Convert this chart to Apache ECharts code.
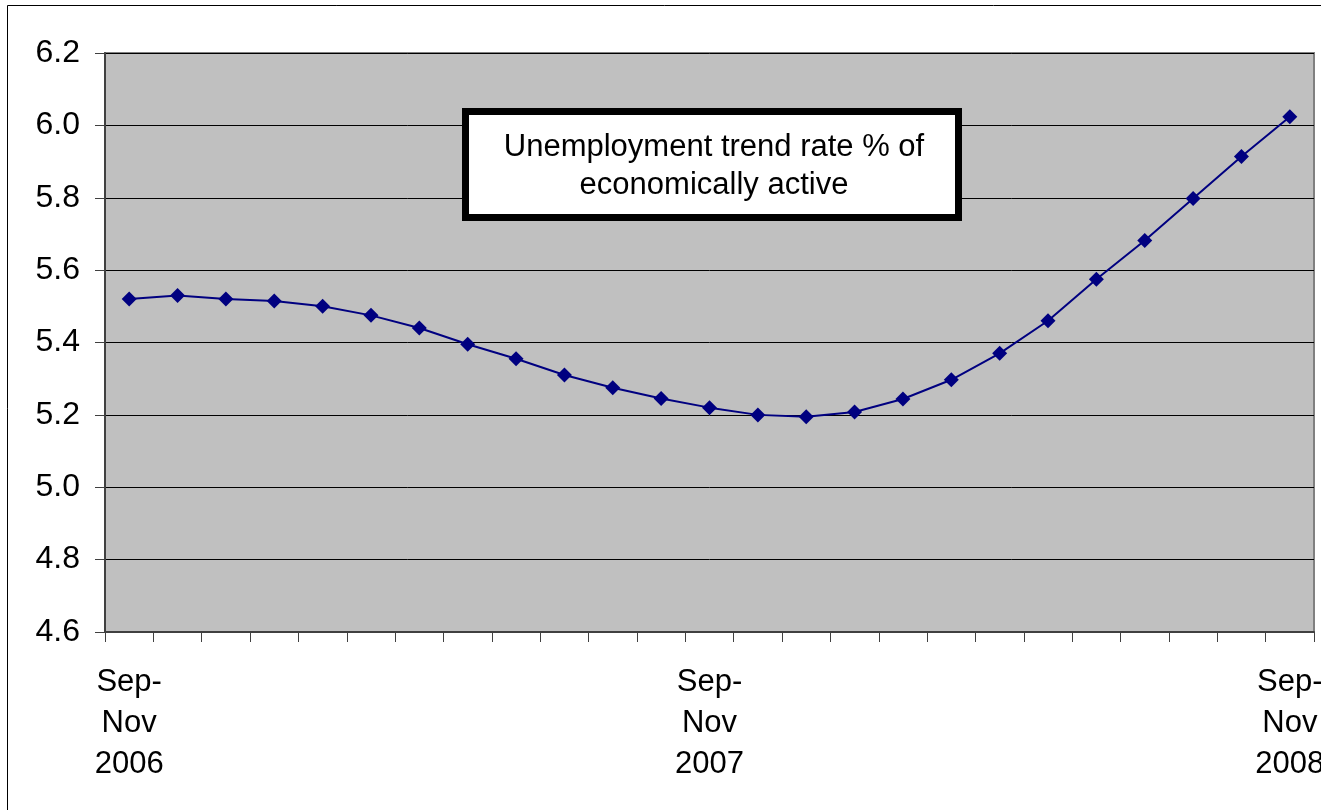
<!DOCTYPE html>
<html>
<head>
<meta charset="utf-8">
<script src="https://cdn.jsdelivr.net/npm/echarts@6/dist/echarts.min.js"></script>
<style>
  html, body { margin: 0; padding: 0; background: #fff; }
  #main { width: 1321px; height: 810px; }
</style>
</head>
<body>
<div id="main"></div>
<script>
// rolling three-month periods
const periods = [
  'Sep-Nov 2006', 'Oct-Dec 2006', 'Nov-Jan 2007', 'Dec-Feb 2007', 'Jan-Mar 2007',
  'Feb-Apr 2007', 'Mar-May 2007', 'Apr-Jun 2007', 'May-Jul 2007', 'Jun-Aug 2007',
  'Jul-Sep 2007', 'Aug-Oct 2007', 'Sep-Nov 2007', 'Oct-Dec 2007', 'Nov-Jan 2008',
  'Dec-Feb 2008', 'Jan-Mar 2008', 'Feb-Apr 2008', 'Mar-May 2008', 'Apr-Jun 2008',
  'May-Jul 2008', 'Jun-Aug 2008', 'Jul-Sep 2008', 'Aug-Oct 2008', 'Sep-Nov 2008'
]
const rates = [
  5.52, 5.53, 5.52, 5.515, 5.50,
  5.475, 5.44, 5.395, 5.355, 5.31,
  5.275, 5.245, 5.22, 5.20, 5.195,
  5.208, 5.244, 5.297, 5.37, 5.46,
  5.575, 5.682, 5.798, 5.914, 6.024
]
const boxTitle = 'Unemployment trend rate % of\neconomically active'

const font = '"Liberation Sans", Arial, sans-serif'
const myChart = echarts.init(document.getElementById('main'))

const option = {
  animation: false,
  backgroundColor: '#fff',
  grid: {
    left: 105, right: 7, top: 53, bottom: 178,
    outerBoundsMode: 'none',
    containLabel: false,
    show: true,
    backgroundColor: '#c0c0c0',
    borderColor: '#808080',
    borderWidth: 2
  },
  xAxis: {
    type: 'category',
    data: periods,
    boundaryGap: true,
    axisLine: { show: true, lineStyle: { color: '#404040', width: 2 } },
    axisTick: { show: true, interval: 0, alignWithLabel: false, length: 10, lineStyle: { color: '#404040', width: 1 } },
    axisLabel: {
      interval: (i) => i % 12 === 0,
      color: '#000',
      fontFamily: font,
      fontSize: 31,
      lineHeight: 41,
      margin: 30,
      formatter: (v) => v.replace('-', '-\n').replace(' ', '\n')
    },
    splitLine: { show: false }
  },
  yAxis: {
    type: 'value',
    min: 4.6,
    max: 6.2,
    interval: 0.2,
    axisLine: { show: true, lineStyle: { color: '#404040', width: 2 } },
    axisTick: { show: true, length: 10, lineStyle: { color: '#404040', width: 1 } },
    axisLabel: {
      color: '#000',
      fontFamily: font,
      fontSize: 32,
      margin: 25,
      padding: [8, 0, 0, 0],
      formatter: (v) => v.toFixed(1)
    },
    splitLine: { show: true, lineStyle: { color: '#000', width: 1 } }
  },
  series: [
    {
      type: 'line',
      data: rates,
      symbol: 'diamond',
      symbolSize: 15,
      itemStyle: { color: '#000080' },
      lineStyle: { color: '#000080', width: 2 }
    }
  ],
  graphic: [
    {
      type: 'rect',
      shape: { x: 7.5, y: 5.5, width: 1400, height: 900 },
      style: { fill: 'none', stroke: '#000', lineWidth: 1 },
      z: 100
    },
    {
      type: 'rect',
      shape: { x: 465.5, y: 111.5, width: 493, height: 106 },
      style: { fill: '#fff', stroke: '#000', lineWidth: 7 },
      z: 100
    },
    {
      type: 'text',
      x: 714,
      y: 166,
      style: {
        text: boxTitle,
        fill: '#000',
        font: '31px ' + font,
        lineHeight: 38,
        align: 'center',
        verticalAlign: 'middle'
      },
      z: 101
    }
  ]
}
myChart.setOption(option)
</script>
</body>
</html>
